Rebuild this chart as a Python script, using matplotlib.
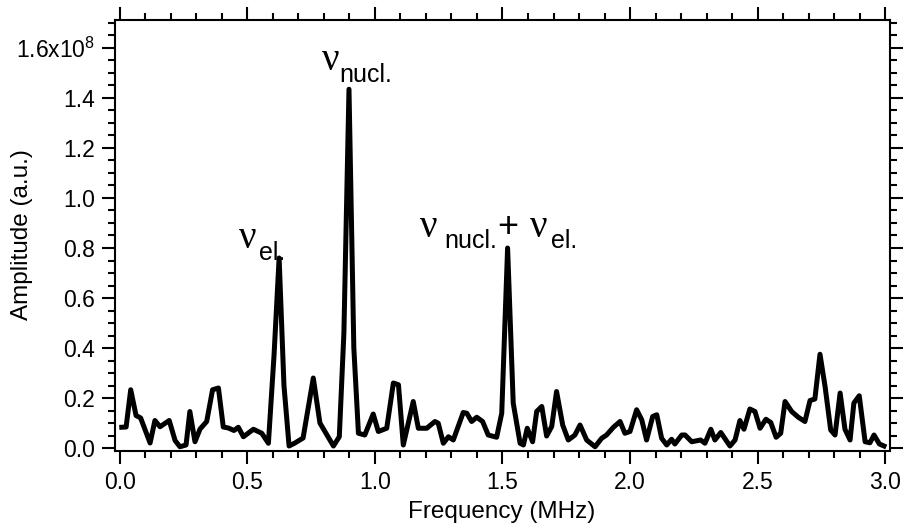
import numpy as np
import matplotlib
matplotlib.use("Agg")
import matplotlib.pyplot as plt
from matplotlib.ticker import MultipleLocator, FixedLocator

plt.rcParams['font.family'] = ['Liberation Sans', 'DejaVu Sans']
plt.rcParams['mathtext.fontset'] = 'custom'
plt.rcParams['mathtext.rm'] = 'Liberation Sans'
plt.rcParams['mathtext.it'] = 'Liberation Sans'

# spectrum, amplitude in units of 1e8 (a.u.)
freq = [0.007, 0.024, 0.042, 0.063, 0.081, 0.118, 0.137, 0.157, 0.193, 0.216,
        0.235, 0.259, 0.274, 0.294, 0.314, 0.34, 0.363, 0.386, 0.405, 0.425,
        0.447, 0.464, 0.484, 0.523, 0.556, 0.582, 0.604, 0.624, 0.643, 0.663,
        0.686, 0.718, 0.758, 0.784, 0.837, 0.86, 0.878, 0.898, 0.917, 0.935,
        0.96, 0.993, 1.013, 1.046, 1.072, 1.092, 1.111, 1.15, 1.17, 1.203,
        1.235, 1.248, 1.268, 1.288, 1.307, 1.346, 1.36, 1.379, 1.399, 1.422,
        1.444, 1.477, 1.497, 1.52, 1.542, 1.569, 1.582, 1.597, 1.618, 1.634,
        1.654, 1.673, 1.693, 1.712, 1.736, 1.758, 1.784, 1.804, 1.83, 1.863,
        1.889, 1.908, 1.935, 1.961, 1.98, 2.0, 2.026, 2.046, 2.065, 2.089,
        2.105, 2.124, 2.144, 2.163, 2.176, 2.203, 2.216, 2.242, 2.277, 2.294,
        2.317, 2.333, 2.356, 2.392, 2.412, 2.431, 2.447, 2.47, 2.49, 2.51,
        2.533, 2.552, 2.573, 2.591, 2.608, 2.634, 2.66, 2.686, 2.706, 2.725,
        2.745, 2.765, 2.787, 2.804, 2.824, 2.843, 2.863, 2.878, 2.899, 2.922,
        2.941, 2.957, 2.978, 2.996]
amp = [0.083, 0.084, 0.233, 0.13, 0.12, 0.02, 0.11, 0.085, 0.11, 0.03,
       0.005, 0.012, 0.146, 0.025, 0.076, 0.106, 0.233, 0.24, 0.084, 0.08,
       0.07, 0.083, 0.045, 0.075, 0.059, 0.019, 0.37, 0.76, 0.25, 0.008,
       0.02, 0.04, 0.28, 0.10, 0.008, 0.045, 0.46, 1.435, 0.40, 0.059,
       0.052, 0.136, 0.066, 0.079, 0.26, 0.253, 0.012, 0.186, 0.079, 0.079,
       0.106, 0.099, 0.019, 0.045, 0.032, 0.142, 0.139, 0.106, 0.123, 0.106,
       0.052, 0.043, 0.139, 0.80, 0.18, 0.019, 0.012, 0.079, 0.025, 0.146,
       0.166, 0.048, 0.086, 0.226, 0.092, 0.032, 0.052, 0.092, 0.032, 0.005,
       0.039, 0.052, 0.083, 0.106, 0.059, 0.066, 0.153, 0.113, 0.032, 0.126,
       0.133, 0.039, 0.012, 0.035, 0.016, 0.052, 0.052, 0.025, 0.032, 0.019,
       0.075, 0.032, 0.062, 0.008, 0.032, 0.11, 0.075, 0.156, 0.146, 0.079,
       0.115, 0.102, 0.043, 0.059, 0.186, 0.146, 0.123, 0.106, 0.19, 0.196,
       0.375, 0.246, 0.072, 0.052, 0.22, 0.075, 0.032, 0.18, 0.209, 0.025,
       0.021, 0.052, 0.016, 0.008]

y_ticks = [0.0, 0.2, 0.4, 0.6, 0.8, 1.0, 1.2, 1.4, 1.6]
y_tick_labels = ['0.0', '0.2', '0.4', '0.6', '0.8', '1.0', '1.2', '1.4', '1.6x10$^{8}$']
x_ticks = [0.0, 0.5, 1.0, 1.5, 2.0, 2.5, 3.0]

fig = plt.figure(figsize=(9.07, 5.27), dpi=100)
ax = fig.add_axes([115 / 907, 76 / 527, 775 / 907, 431 / 527])

ax.plot(freq, amp, color='black', lw=3.6, solid_joinstyle='round')

ax.set_xlim(-0.0196, 3.0196)
ax.set_ylim(-0.012, 1.712)

ax.xaxis.set_major_locator(FixedLocator(x_ticks))
ax.xaxis.set_minor_locator(MultipleLocator(0.1))
ax.set_xticklabels([f"{t:.1f}" for t in x_ticks])
ax.yaxis.set_major_locator(FixedLocator(y_ticks))
ax.yaxis.set_minor_locator(MultipleLocator(0.05))
ax.set_yticklabels(y_tick_labels)

ax.tick_params(which='both', direction='out', top=True, right=True,
               width=1.5, labelsize=16.5, pad=5)
ax.tick_params(which='major', length=9.6)
ax.tick_params(which='minor', length=5)
for s in ax.spines.values():
    s.set_linewidth(1.5)

fig.text(502 / 907, 1 - 512 / 527, 'Frequency (MHz)', fontsize=17.5,
         ha='center', va='center')
fig.text(22 / 907, 1 - 235 / 527, 'Amplitude (a.u.)', fontsize=17.5,
         ha='center', va='center', rotation=90)


# peak labels: nu drawn in serif, subscript in sans, lowered like the original
def nu_label(x, y, sub, sub_x, sub_y):
    ax.text(x, y, '\u03bd', fontsize=28, family='Liberation Serif',
            va='baseline', ha='left')
    ax.text(sub_x, sub_y, sub, fontsize=18, va='baseline', ha='left')


nu_label(0.467, 0.80, 'el.', 0.545, 0.752)
nu_label(0.791, 1.512, 'nucl.', 0.862, 1.465)
nu_label(1.176, 0.844, 'nucl.', 1.273, 0.798)
ax.text(1.522, 0.88, '+', fontsize=26, ha='center', va='center')
nu_label(1.608, 0.844, 'el.', 1.690, 0.798)

fig.savefig('out.png', dpi=100)
